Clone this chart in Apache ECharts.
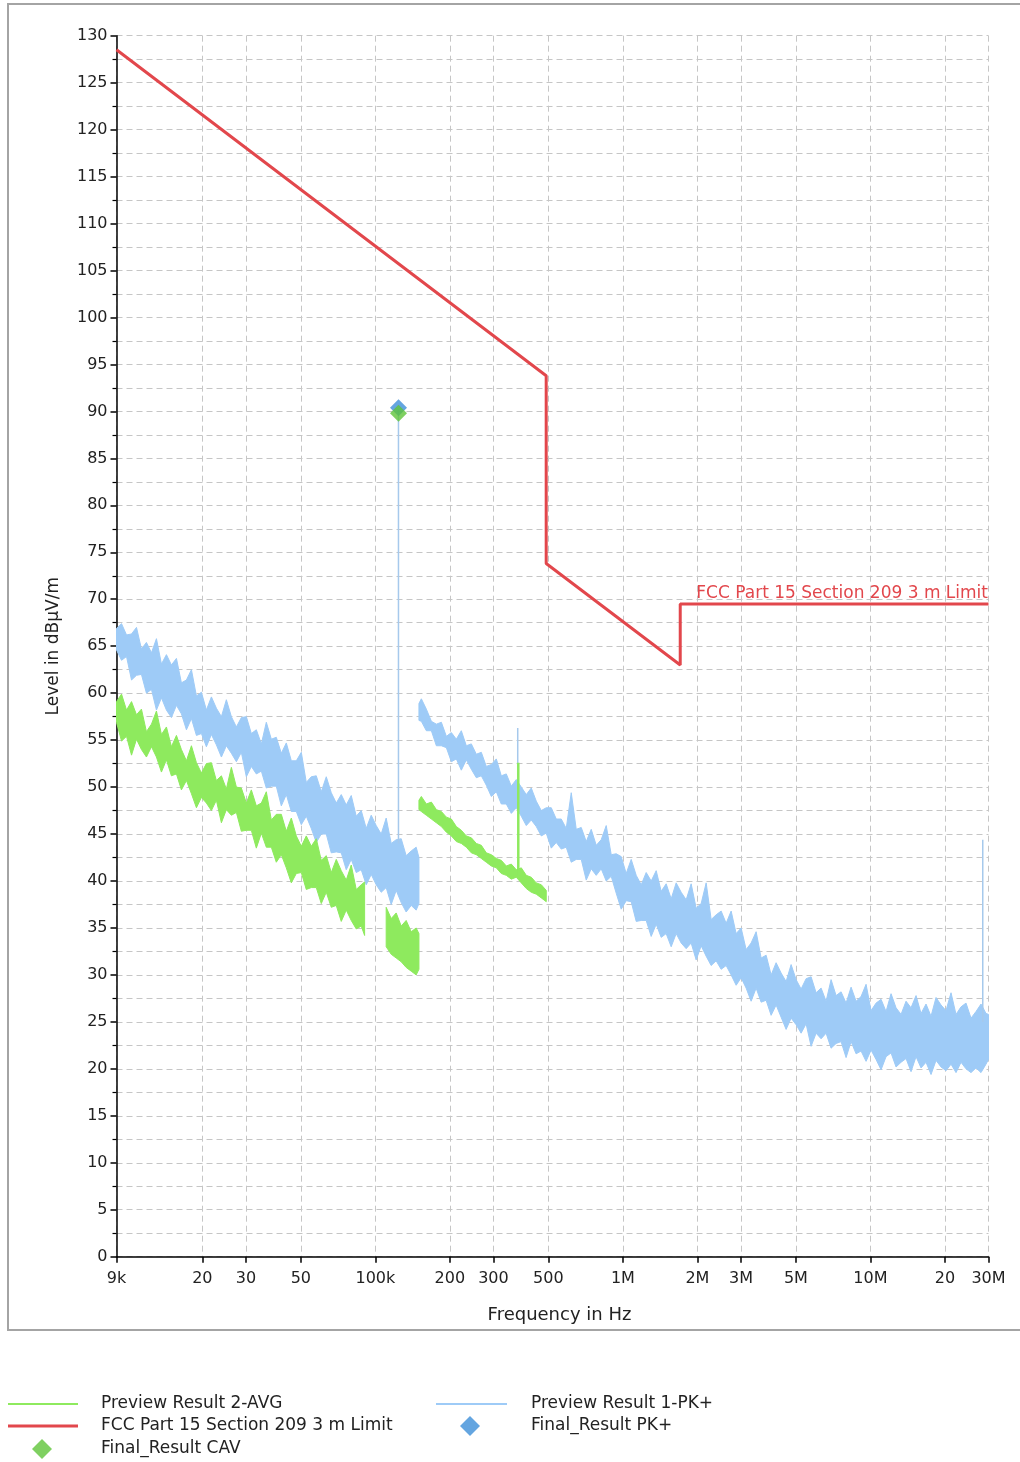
<!DOCTYPE html>
<html><head><meta charset="utf-8">
<script src="https://cdn.jsdelivr.net/npm/echarts@6/dist/echarts.min.js"></script>
<style>html,body{margin:0;padding:0;background:#fff}#c{width:1020px;height:1462px}</style>
</head><body><div id="c"></div><script>
// ---------- axis ticks ----------
const tickFreqHz = [9e3, 2e4, 3e4, 5e4, 1e5, 2e5, 3e5, 5e5, 1e6, 2e6, 3e6, 5e6, 1e7, 2e7, 3e7];
const tickLabels = ['9k', '20', '30', '50', '100k', '200', '300', '500', '1M', '2M', '3M', '5M', '10M', '20', '30M'];

// ---------- FCC limit (kHz, dBuV/m) ----------
const limitFreq = [9, 490, 490, 1705, 1705, 30000];
const limitLevel = [128.5, 93.8, 73.8, 63.0, 69.5, 69.5];

// ---------- Preview Result 1-PK+ (band envelopes, kHz) ----------
const pk1Freq = [9.00, 9.43, 9.88, 10.35, 10.84, 11.35, 11.89, 12.46, 13.05, 13.67, 14.32, 15.00, 15.72, 16.46, 17.25, 18.07, 18.93, 19.83, 20.77, 21.76, 22.79, 23.88, 25.01, 26.20, 27.45, 28.75, 30.12, 31.55, 33.05, 34.63, 36.27, 38.00, 39.80, 41.70, 43.68, 45.76, 47.94, 50.22, 52.60, 55.10, 57.73, 60.47, 63.35, 66.36, 69.52, 72.82, 76.29, 79.92, 83.72, 87.70, 91.87, 96.24, 100.8, 105.6, 110.6, 115.9, 121.4, 127.2, 133.2, 139.6, 146.2, 150.0];
const pk1Hi = [66.9, 67.4, 66.2, 66.3, 67.0, 64.7, 65.4, 64.3, 65.8, 63.1, 64.1, 63.0, 63.7, 61.1, 61.4, 62.5, 59.7, 60.1, 58.2, 59.6, 58.4, 57.5, 59.3, 57.5, 56.4, 57.4, 57.5, 55.7, 56.1, 54.6, 56.9, 55.1, 55.3, 53.6, 54.7, 52.8, 52.8, 53.7, 50.5, 51.1, 51.2, 49.5, 51.1, 49.4, 48.3, 49.2, 48.1, 49.1, 46.9, 47.5, 45.6, 47.0, 45.9, 45.0, 46.7, 44.0, 44.4, 44.5, 42.7, 43.2, 43.6, 42.5];
const pk1Lo = [64.6, 63.5, 63.9, 61.4, 61.9, 62.0, 60.0, 60.4, 58.2, 59.5, 58.2, 57.4, 58.7, 57.8, 56.1, 57.3, 55.5, 55.7, 54.3, 55.6, 54.5, 53.2, 54.4, 53.6, 52.7, 53.7, 51.1, 52.2, 51.4, 51.7, 49.9, 50.1, 50.1, 48.0, 49.2, 47.4, 47.4, 46.0, 46.9, 45.6, 44.1, 45.0, 45.0, 43.0, 43.1, 43.0, 41.2, 42.3, 40.9, 41.2, 39.6, 40.7, 39.6, 38.8, 39.3, 37.5, 39.0, 37.7, 36.7, 37.4, 36.9, 37.6];

const pk2Freq = [150.0, 153.4, 160.7, 168.4, 176.4, 184.8, 193.6, 202.8, 212.4, 222.5, 233.1, 244.2, 255.8, 268.0, 280.7, 294.1, 308.1, 322.7, 338.1, 354.2, 371.0, 388.7, 407.2, 426.5, 446.8, 468.1, 490.3, 513.7, 538.1, 563.7, 590.5, 618.6, 648.1, 678.9, 711.2, 745.0, 780.5, 817.6, 856.5, 897.3, 940.0, 984.7, 1031.5, 1080.6, 1132.0, 1185.9, 1242.3, 1301.4, 1363.3, 1428.2, 1496.1, 1567.3, 1641.9, 1720.0, 1801.9, 1887.6, 1977.4, 2071.5, 2170.1, 2273.3, 2381.5, 2494.8, 2613.5, 2737.9, 2868.2, 3004.6, 3147.6, 3297.4, 3454.3, 3618.7, 3790.9, 3971.3, 4160.3, 4358.2, 4565.6, 4782.8, 5010.4, 5248.8, 5498.6, 5760.2, 6034.3, 6321.4, 6622.2, 6937.3, 7267.4, 7613.2, 7975.5, 8355.0, 8752.6, 9169.1, 9605.4, 10062, 10541, 11043, 11568, 12119, 12695, 13299, 13932, 14595, 15290, 16017, 16779, 17578, 18414, 19290, 20208, 21170, 22177, 23232, 24338, 25496, 26709, 27980, 29311, 30000];
const pk2Hi = [58.9,
  59.4, 58.3, 57.0, 56.7, 56.9, 55.4, 55.8, 55.1, 56.0, 54.4,
  54.6, 53.5, 53.7, 52.2, 52.4, 53.0, 51.2, 51.4, 50.1, 50.8,
  50.0, 49.2, 49.9, 48.5, 47.5, 47.8, 47.8, 46.6, 46.6, 45.6,
  49.4, 45.5, 45.7, 44.2, 45.5, 43.8, 44.4, 45.9, 42.8, 42.9,
  42.6, 40.8, 42.3, 40.6, 39.6, 40.9, 40.0, 41.1, 38.9, 39.7,
  38.1, 39.8, 38.8, 38.0, 39.7, 37.1, 37.6, 39.8, 35.9, 36.4,
  36.8, 35.5, 36.8, 34.4, 35.0, 32.7, 33.4, 34.6, 31.8, 32.1,
  30.0, 31.3, 30.2, 29.3, 31.1, 29.5, 28.5, 29.6, 29.8, 28.1,
  28.6, 27.2, 29.5, 27.8, 28.2, 27.0, 28.7, 27.2, 27.7, 29.0,
  26.2, 27.0, 27.4, 26.1, 28.0, 26.5, 25.8, 27.2, 26.5, 27.8,
  25.9, 26.9, 25.6, 27.6, 26.8, 26.2, 28.1, 25.8, 26.6, 27.0,
  25.4, 26.1, 26.9, 25.9,
  25.8];
const pk2Lo = [57.1,
  57.0, 56.0, 56.0, 54.4, 54.4, 54.2, 52.7, 53.0, 51.8, 52.9,
  51.9, 51.0, 51.2, 50.2, 49.0, 49.5, 48.2, 48.2, 47.2, 47.8,
  46.9, 45.9, 46.5, 45.8, 44.8, 45.1, 43.5, 44.1, 43.4, 43.6,
  42.0, 42.3, 42.3, 40.1, 41.3, 40.6, 41.3, 40.0, 40.5, 38.7,
  37.0, 37.9, 37.8, 35.7, 35.8, 35.8, 34.1, 35.4, 34.0, 34.4,
  33.0, 34.4, 33.4, 32.8, 33.4, 31.6, 33.1, 32.0, 31.0, 31.5,
  30.6, 31.0, 30.0, 28.9, 29.7, 28.6, 27.2, 28.6, 27.1, 27.3,
  25.7, 26.8, 25.5, 24.2, 25.4, 24.7, 23.8, 24.8, 22.4, 23.8,
  23.2, 23.8, 22.2, 22.7, 22.9, 21.2, 22.9, 21.6, 21.9, 20.8,
  22.0, 21.0, 19.9, 21.3, 21.7, 20.2, 20.7, 21.1, 19.7, 21.3,
  20.1, 20.7, 19.4, 20.9, 20.2, 19.8, 20.5, 19.6, 20.7, 20.0,
  19.6, 20.1, 19.6, 20.5,
  21.0];

// single-frequency spikes of the PK+ preview: [kHz, from, to]
const pkSpikes = [[124, 44.0, 90.2], [376, 48.0, 56.3], [28440, 25.0, 44.4]];

// ---------- Preview Result 2-AVG ----------
const av1Freq = [9.00, 9.43, 9.88, 10.35, 10.84, 11.35, 11.89, 12.46, 13.05, 13.67, 14.32, 15.00, 15.72, 16.46, 17.25, 18.07, 18.93, 19.83, 20.77, 21.76, 22.79, 23.88, 25.01, 26.20, 27.45, 28.75, 30.12, 31.55, 33.05, 34.63, 36.27, 38.00, 39.80, 41.70, 43.68, 45.76, 47.94, 50.22, 52.60, 55.10, 57.73, 60.47, 63.35, 66.36, 69.52, 72.82, 76.29, 79.92, 83.72, 87.70, 90.5];
const av1Hi = [59.1, 59.9, 58.2, 59.1, 57.7, 58.3, 55.9, 56.7, 58.1, 55.6, 56.4, 54.3, 55.5, 54.0, 52.8, 54.4, 52.6, 51.5, 52.5, 52.6, 50.7, 51.2, 49.8, 52.1, 50.0, 49.9, 48.3, 49.7, 48.0, 48.3, 49.5, 46.5, 47.1, 47.1, 45.3, 46.7, 44.8, 43.7, 44.8, 43.7, 44.5, 42.2, 42.7, 40.9, 42.3, 41.1, 40.1, 41.7, 39.1, 39.6, 39.9];
const av1Lo = [56.9, 54.9, 55.4, 53.4, 55.1, 54.0, 53.2, 54.3, 53.2, 51.6, 52.9, 51.2, 51.4, 49.7, 50.7, 49.3, 47.8, 48.9, 48.3, 47.5, 48.6, 46.2, 47.6, 47.0, 47.3, 45.3, 45.4, 45.4, 43.5, 45.1, 43.6, 43.6, 42.0, 42.8, 41.4, 39.8, 40.8, 40.9, 39.1, 39.3, 39.3, 37.6, 38.8, 37.2, 37.4, 35.7, 36.9, 35.8, 34.9, 35.2, 34.2];

const av2Freq = [110.6, 115.9, 121.4, 127.2, 133.2, 139.6, 146.2, 150.0];
const av2Hi = [37.2, 36.0, 36.6, 35.2, 35.8, 34.6, 35.0, 34.4];
const av2Lo = [33.0, 32.2, 31.8, 31.4, 30.8, 30.4, 30.0, 30.6];

const av3Freq = [150.0, 153.4, 160.7, 168.4, 176.4, 184.8, 193.6, 202.8, 212.4, 222.5, 233.1, 244.2, 255.8, 268.0, 280.7, 294.1, 308.1, 322.7, 338.1, 354.2, 371.0, 388.7, 407.2, 426.5, 446.8, 468.1, 490.3];
const av3Hi = [48.6, 49.0, 48.2, 48.4, 47.6, 47.4, 46.8, 46.6, 45.8, 45.4, 44.8, 44.6, 44.0, 43.8, 43.0, 42.8, 42.4, 42.2, 41.6, 41.8, 41.2, 41.4, 40.6, 40.4, 39.8, 39.6, 39.0];
const av3Lo = [47.6, 47.4, 47.0, 46.6, 46.2, 45.8, 45.2, 44.8, 44.2, 44.0, 43.6, 43.0, 42.8, 42.4, 42.0, 41.6, 41.4, 40.8, 40.6, 40.2, 40.4, 39.8, 39.2, 38.8, 38.6, 38.2, 37.8];
const avSpikes = [[378, 40.6, 52.6]];

// ---------- final results ----------
const finalFreq = [124];
const finalPk = [90.4];
const finalCav = [89.8];

// ---------- styles ----------
const C_PK = '#9ecbf7', C_AV = '#8eea5e', C_LIM = '#e2474c', C_DPK = '#3d8fd8', C_DAV = '#5fc43a';
const N_AV = 'Preview Result 2-AVG', N_LIM = 'FCC Part 15 Section 209 3 m Limit', N_CAV = 'Final_Result CAV',
      N_PK = 'Preview Result 1-PK+', N_FPK = 'Final_Result PK+';
const FONT = 'DejaVu Sans';
const LX = kHz => Math.log10(kHz * 1000);

function band(name, color, freq, hi, lo) {
  return {
    type: 'custom', name, coordinateSystem: 'cartesian2d', silent: true, z: 2,
    itemStyle: { color },
    data: [[LX(freq[0]), hi[0]]],
    encode: { x: 0, y: 1 },
    renderItem: (params, api) => {
      const n = Math.min(freq.length, hi.length, lo.length);
      const pts = [];
      for (let k = 0; k < n; k++) pts.push(api.coord([LX(freq[k]), hi[k]]));
      for (let k = n - 1; k >= 0; k--) pts.push(api.coord([LX(freq[k]), lo[k]]));
      return { type: 'polygon', shape: { points: pts }, style: { fill: color, stroke: color, lineWidth: 1 } };
    }
  };
}
function spike(name, color, s, w) {
  return {
    type: 'line', name, symbol: 'none', silent: true, z: 2,
    lineStyle: { color, width: w }, itemStyle: { color },
    data: [[LX(s[0]), s[1]], [LX(s[0]), s[2]]]
  };
}

const tickVals = tickFreqHz.map(f => Math.log10(f));
const fmtX = v => { const i = tickVals.findIndex(t => Math.abs(t - v) < 1e-6); return i >= 0 ? tickLabels[i] : ''; };
const gridDash = { color: '#c6c6c6', width: 1, type: [6, 4] };

const series = [
  band(N_PK, C_PK, pk1Freq, pk1Hi, pk1Lo),
  band(N_PK, C_PK, pk2Freq, pk2Hi, pk2Lo),
  ...pkSpikes.map(s => spike(N_PK, '#a6c9ec', s, 1.5)),
  band(N_AV, C_AV, av1Freq, av1Hi, av1Lo),
  band(N_AV, C_AV, av2Freq, av2Hi, av2Lo),
  band(N_AV, C_AV, av3Freq, av3Hi, av3Lo),
  ...avSpikes.map(s => spike(N_AV, C_AV, s, 2.5)),
  {
    type: 'line', name: N_LIM, symbol: 'none', z: 4,
    lineStyle: { color: C_LIM, width: 3 }, itemStyle: { color: C_LIM },
    data: limitFreq.map((f, i) => [LX(f), limitLevel[i]]),
    markPoint: {
      symbol: 'circle', symbolSize: 1, silent: true, itemStyle: { color: 'rgba(0,0,0,0)' },
      label: { show: true, position: [0, -1], align: 'right', verticalAlign: 'bottom', color: C_LIM,
               fontFamily: FONT, fontSize: 17, formatter: N_LIM },
      data: [{ coord: [LX(limitFreq[limitFreq.length - 1]), limitLevel[limitLevel.length - 1]] }]
    }
  },
  {
    type: 'scatter', name: N_FPK, symbol: 'diamond', symbolSize: [17, 17], z: 5,
    itemStyle: { color: C_DPK },
    data: finalFreq.map((f, i) => [LX(f), finalPk[i]])
  },
  {
    type: 'scatter', name: N_CAV, symbol: 'diamond', symbolSize: [17, 17], z: 6,
    itemStyle: { color: C_DAV },
    data: finalFreq.map((f, i) => [LX(f), finalCav[i]])
  }
];

const legendText = { fontFamily: FONT, fontSize: 17, color: '#222', lineHeight: 20 };
function legend(name, left, top, icon, w, h, pad) {
  return { show: true, left, top, padding: 0, selectedMode: false, icon,
    itemWidth: w, itemHeight: h, data: [{ name, icon }],
    textStyle: Object.assign({}, legendText, { padding: [0, 0, 0, pad] }) };
}

const chart = echarts.init(document.getElementById('c'), null, { renderer: 'canvas' });
chart.setOption({
  animation: false,
  backgroundColor: '#ffffff',
  grid: { left: 116.5, right: 31.5, top: 35.7, bottom: 205.3, containLabel: false, outerBoundsMode: 'none' },
  xAxis: {
    type: 'value', min: Math.log10(9e3), max: Math.log10(3e7),
    name: 'Frequency in Hz', nameLocation: 'middle', nameGap: 50,
    nameTextStyle: { fontFamily: FONT, fontSize: 18, color: '#222', padding: [0, 0, 0, 14] },
    axisLine: { show: true, onZero: false, lineStyle: { color: '#000', width: 1.5 } },
    axisTick: { show: true, customValues: tickVals, length: 6, lineStyle: { color: '#000', width: 1.5 } },
    axisLabel: { show: true, customValues: tickVals, formatter: fmtX, margin: 14,
                 fontFamily: FONT, fontSize: 16, color: '#222' },
    splitLine: { show: true, lineStyle: gridDash },
    minorTick: { show: false }, minorSplitLine: { show: false }
  },
  yAxis: {
    type: 'value', min: 0, max: 130, interval: 5,
    name: 'Level in dBµV/m', nameLocation: 'middle', nameGap: 54,
    nameTextStyle: { fontFamily: FONT, fontSize: 17, color: '#222' },
    axisLine: { show: true, lineStyle: { color: '#000', width: 1.5 } },
    axisTick: { show: true, length: 6, lineStyle: { color: '#000', width: 1.5 } },
    minorTick: { show: true, splitNumber: 2, length: 4, lineStyle: { color: '#000', width: 1.2 } },
    axisLabel: { margin: 9, fontFamily: FONT, fontSize: 16, color: '#222' },
    splitLine: { show: true, lineStyle: gridDash },
    minorSplitLine: { show: true, lineStyle: gridDash }
  },
  legend: [
    legend(N_AV, 8, 1394, 'rect', 70, 2, 18),
    legend(N_LIM, 8, 1416, 'rect', 70, 3, 18),
    legend(N_CAV, 32, 1439, 'diamond', 20, 20, 44),
    legend(N_PK, 436, 1394, 'rect', 71, 2, 19),
    legend(N_FPK, 460, 1416, 'diamond', 20, 20, 46)
  ],
  graphic: [{
    type: 'rect', silent: true, z: -10,
    shape: { x: 8, y: 4, width: 1040, height: 1326 },
    style: { fill: null, stroke: '#a4a4a4', lineWidth: 2 }
  }],
  series
});
</script></body></html>
